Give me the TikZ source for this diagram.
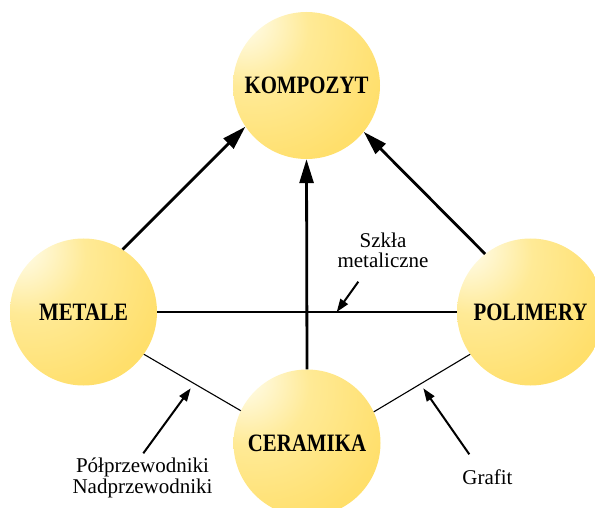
\documentclass[tikz,border=0pt]{standalone}
\usepackage{fontspec}
\usepackage{graphicx}
\setmainfont{Liberation Serif}
\usetikzlibrary{arrows.meta}
\definecolor{ballA}{RGB}{255,250,224}
\definecolor{ballB}{RGB}{255,234,150}
\definecolor{ballC}{RGB}{255,223,108}
\definecolor{ballD}{RGB}{255,211,52}
\pgfdeclareradialshading{sphereglow}{\pgfpoint{-24bp}{24bp}}{%
  color(0bp)=(ballA); color(5bp)=(ballA); color(20bp)=(ballB);
  color(42bp)=(ballC); color(84bp)=(ballD); color(100bp)=(ballD)}
\tikzset{
  ball/.style={circle, minimum size=147pt, inner sep=0pt, shading=sphereglow,
    font=\fontsize{25}{25}\selectfont\bfseries},
  bigarrow/.style={line width=2.8pt, -{Triangle[length=24pt,width=14pt]}},
  smallarrow/.style={line width=2pt, -{Triangle[length=13pt,width=9pt]}},
  thinline/.style={line width=1.1pt},
  lbl/.style={font=\fontsize{21}{21}\selectfont, align=center, inner sep=0pt}
}
\newcommand{\sq}[1]{\scalebox{0.834}[1]{#1}}
\begin{document}
\begin{tikzpicture}[x=1pt,y=-1pt]
\useasboundingbox (0,0) rectangle (595,508);
\clip (0,0) rectangle (595,508);
\node[ball] (K) at (306.5,85.5) {\sq{KOMPOZYT}};
\node[ball] (M) at (83.5,312) {\sq{METALE}};
\node[ball] (P) at (530.5,312) {\sq{POLIMERY}};
\node[ball] (C) at (307,443) {\sq{CERAMIKA}};
% thin connections
\draw[thinline] (M.0) -- (P.180);
\draw[thinline] (M.-35.7) -- (C.154.6);
\draw[thinline] (P.215) -- (C.25.9);
% main arrows
\draw[bigarrow] (M.58.6) -- (K.214.6);
\draw[bigarrow] (P.128) -- (K.-39.9);
\draw[bigarrow] (C.90) -- (K.270);
% labels
\node[lbl, anchor=base] (s1) at (383,247.3) {Szkła};
\node[lbl, anchor=base] (s2) at (383,267.7) {metaliczne};
\coordinate (sT) at (358.3,281.7);
\coordinate (sH) at (336.7,312);
\draw[smallarrow] (sT) -- (sH);
\node[lbl, anchor=base] (p1) at (142.5,472) {Półprzewodniki};
\node[lbl, anchor=base] (p2) at (142.5,493) {Nadprzewodniki};
\coordinate (pT) at (143.3,453.3);
\coordinate (pH) at (190.7,388.3);
\draw[smallarrow] (pT) -- (pH);
\node[lbl, anchor=base] (g1) at (487.5,484) {Grafit};
\coordinate (gT) at (469.3,454.3);
\coordinate (gH) at (423.3,388.3);
\draw[smallarrow] (gT) -- (gH);
\end{tikzpicture}
\end{document}
